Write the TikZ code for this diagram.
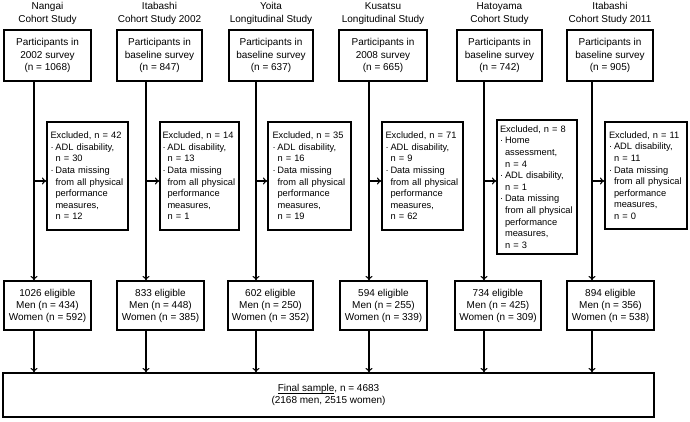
\documentclass[tikz,border=0pt]{standalone}
\usepackage{fontspec}
\setmainfont{Liberation Sans}
\usepackage{tikz}
\usetikzlibrary{arrows,arrows.meta,positioning,calc}

\newcommand{\bul}{\makebox[5pt][l]{·}}
\newcommand{\ind}{\hspace*{5pt}}
\newcommand{\nohy}{\hyphenpenalty=10000\relax}
\newcommand{\ulin}[1]{\setbox0\hbox{#1}\rlap{\rule[-2.2pt]{\wd0}{0.7pt}}\box0}

\begin{document}
\begin{tikzpicture}[x=1pt,y=-1pt,
    box/.style={draw,line width=1.1pt,align=center,inner sep=2pt,%
      font=\fontsize{10}{12.5}\selectfont},
    elbox/.style={draw,line width=1.1pt,align=center,inner sep=2pt,%
      minimum height=49pt,font=\fontsize{10}{12}\selectfont},
    exbox/.style={draw,line width=1.1pt,align=left,inner xsep=2.5pt,%
      inner ysep=2pt,text width=74pt,%
      font=\fontsize{9.3}{11.6}\selectfont\nohy},
    head/.style={align=center,font=\fontsize{10}{13}\selectfont},
    conn/.style={-{To[length=4.5pt,width=7pt]},line width=1.1pt}]
      \useasboundingbox (0,0) rectangle (690,421);

      \coordinate (c1) at (34,181);
      \coordinate (c2) at (146,181);
      \coordinate (c3) at (256,181);
      \coordinate (c4) at (369,181);
      \coordinate (c5) at (484,181);
      \coordinate (c6) at (592,181);

      % study names
      \node[head] (h1) at (47.5,13.5) {Nangai\\Cohort Study};
      \node[head] (h2) at (159.5,13.5) {Itabashi\\Cohort Study 2002};
      \node[head] (h3) at (271,13.5) {Yoita\\Longitudinal Study};
      \node[head] (h4) at (383,13.5) {Kusatsu\\Longitudinal Study};
      \node[head] (h5) at (499.5,13.5) {Hatoyama\\Cohort Study};
      \node[head] (h6) at (610,13.5) {Itabashi\\Cohort Study 2011};

      % participants
      \node[box,minimum width=87pt,minimum height=51pt] (p1) at (47.5,55.5) {Participants in\\2002 survey\\(n = 1068)};
      \node[box,minimum width=85pt,minimum height=51pt] (p2) at (159.5,55.5) {Participants in\\baseline survey\\(n = 847)};
      \node[box,minimum width=84pt,minimum height=51pt] (p3) at (271,55.5) {Participants in\\baseline survey\\(n = 637)};
      \node[box,minimum width=88pt,minimum height=51pt] (p4) at (383,55.5) {Participants in\\2008 survey\\(n = 665)};
      \node[box,minimum width=85pt,minimum height=51pt] (p5) at (499.5,55.5) {Participants in\\baseline survey\\(n = 742)};
      \node[box,minimum width=86pt,minimum height=51pt] (p6) at (610,55.5) {Participants in\\baseline survey\\(n = 905)};

      % exclusions
      \node[exbox,minimum width=81pt,minimum height=108pt] (x1) at (87.5,176) {Excluded, n = 42\\\bul ADL disability,\\\ind n = 30\\\bul Data missing\\\ind from all physical\\\ind performance\\\ind measures,\\\ind n = 12};
      \node[exbox,minimum width=79pt,minimum height=108pt] (x2) at (199.5,176) {Excluded, n = 14\\\bul ADL disability,\\\ind n = 13\\\bul Data missing\\\ind from all physical\\\ind performance\\\ind measures,\\\ind n = 1};
      \node[exbox,minimum width=83pt,minimum height=108pt] (x3) at (309.5,176) {Excluded, n = 35\\\bul ADL disability,\\\ind n = 16\\\bul Data missing\\\ind from all physical\\\ind performance\\\ind measures,\\\ind n = 19};
      \node[exbox,minimum width=81pt,minimum height=108pt] (x4) at (422.5,176) {Excluded, n = 71\\\bul ADL disability,\\\ind n = 9\\\bul Data missing\\\ind from all physical\\\ind performance\\\ind measures,\\\ind n = 62};
      \node[exbox,minimum width=80pt,minimum height=134pt] (x5) at (537,187) {Excluded, n = 8\\\bul Home\\\ind assessment,\\\ind n = 4\\\bul ADL disability,\\\ind n = 1\\\bul Data missing\\\ind from all physical\\\ind performance\\\ind measures,\\\ind n = 3};
      \node[exbox,minimum width=82pt,minimum height=107pt] (x6) at (646,175.5) {Excluded, n = 11\\\bul ADL disability,\\\ind n = 11\\\bul Data missing\\\ind from all physical\\\ind performance\\\ind measures,\\\ind n = 0};

      % eligible
      \node[elbox,minimum width=87pt] (e1) at (47.5,305.5) {1026 eligible\\Men (n = 434)\\Women (n = 592)};
      \node[elbox,minimum width=87pt] (e2) at (160.5,305.5) {833 eligible\\Men (n = 448)\\Women (n = 385)};
      \node[elbox,minimum width=85pt] (e3) at (270.5,305.5) {602 eligible\\Men (n = 250)\\Women (n = 352)};
      \node[elbox,minimum width=87pt] (e4) at (383.5,305.5) {594 eligible\\Men (n = 255)\\Women (n = 339)};
      \node[elbox,minimum width=86pt] (e5) at (498,305.5) {734 eligible\\Men (n = 425)\\Women (n = 309)};
      \node[elbox,minimum width=87pt] (e6) at (610.5,305.5) {894 eligible\\Men (n = 356)\\Women (n = 538)};

      % final sample
      \node[box,minimum width=651pt,minimum height=44pt] (fin) at (328.5,395) {\ulin{Final sample}, n = 4683\\(2168 men, 2515 women)};

      \draw[conn] (p1.south -| c1) -- (e1.north -| c1);
      \draw[conn] (p2.south -| c2) -- (e2.north -| c2);
      \draw[conn] (p3.south -| c3) -- (e3.north -| c3);
      \draw[conn] (p4.south -| c4) -- (e4.north -| c4);
      \draw[conn] (p5.south -| c5) -- (e5.north -| c5);
      \draw[conn] (p6.south -| c6) -- (e6.north -| c6);

      \draw[conn] (c1) -- (c1 -| x1.west);
      \draw[conn] (c2) -- (c2 -| x2.west);
      \draw[conn] (c3) -- (c3 -| x3.west);
      \draw[conn] (c4) -- (c4 -| x4.west);
      \draw[conn] (c5) -- (c5 -| x5.west);
      \draw[conn] (c6) -- (c6 -| x6.west);

      \draw[conn] (e1.south -| c1) -- (fin.north -| c1);
      \draw[conn] (e2.south -| c2) -- (fin.north -| c2);
      \draw[conn] (e3.south -| c3) -- (fin.north -| c3);
      \draw[conn] (e4.south -| c4) -- (fin.north -| c4);
      \draw[conn] (e5.south -| c5) -- (fin.north -| c5);
      \draw[conn] (e6.south -| c6) -- (fin.north -| c6);

\end{tikzpicture}
\end{document}
